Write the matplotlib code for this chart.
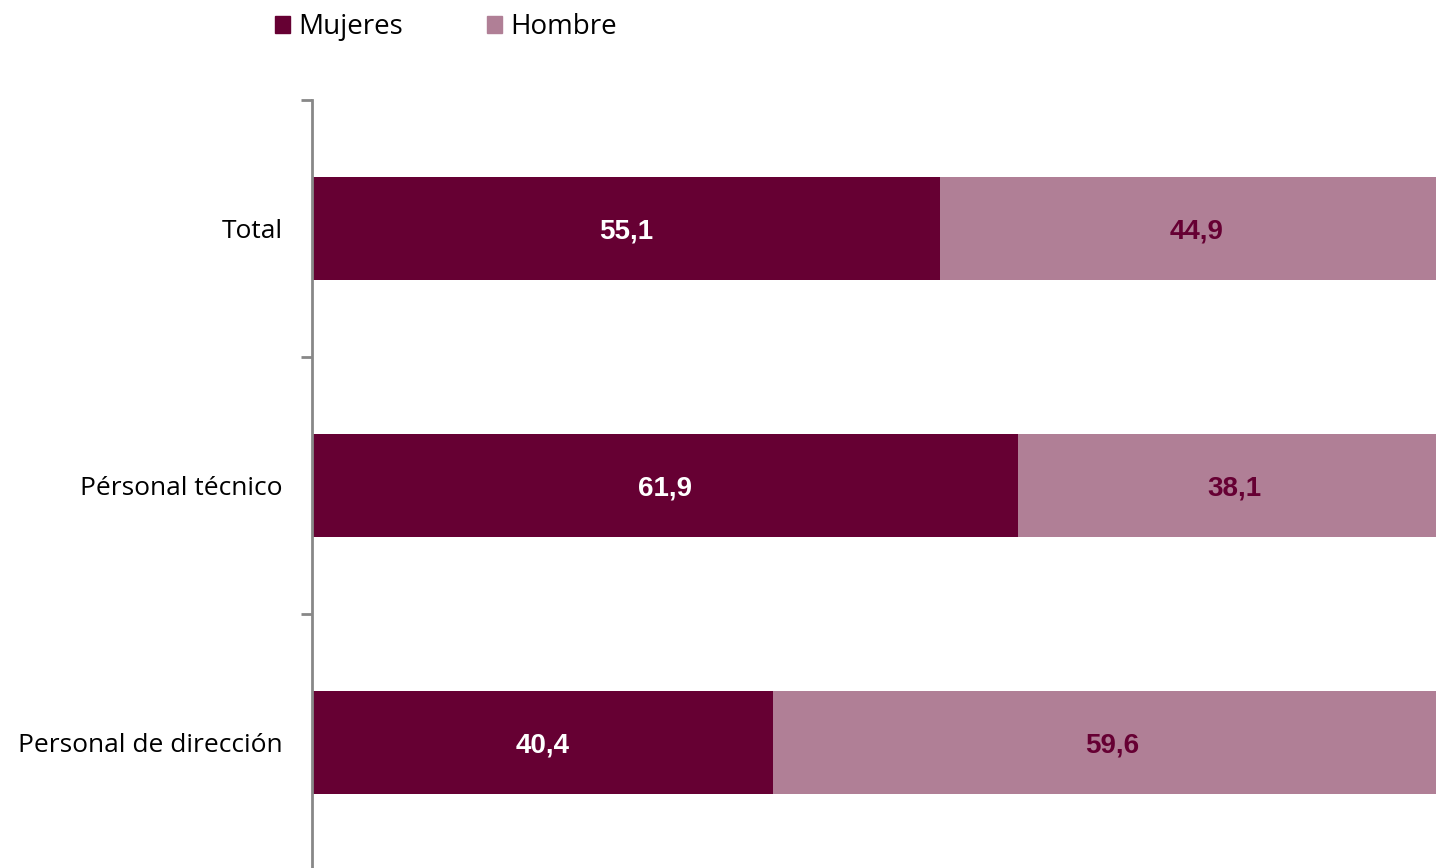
import matplotlib.pyplot as plt
from matplotlib.patches import Patch

# datos
categorias = ['Total', 'Pérsonal técnico', 'Personal de dirección']
mujeres = [55.1, 61.9, 40.4]
hombre = [44.9, 38.1, 59.6]

col_muj = '#660033'
col_hom = '#b07f96'

plt.rcParams['font.family'] = ['Open Sans', 'DejaVu Sans']

fig = plt.figure(figsize=(14.36, 8.68), dpi=100)
ax = fig.add_axes([312 / 1436, -3 / 868, 1140 / 1436, 771 / 868])

y = list(range(len(categorias)))
b1 = ax.barh(y, mujeres, height=0.4, color=col_muj)
b2 = ax.barh(y, hombre, left=mujeres, height=0.4, color=col_hom)

# etiquetas de valores
for i in y:
    ax.text(mujeres[i] / 2, i + 0.01, f"{mujeres[i]:.1f}".replace('.', ','),
            ha='center', va='center', color='white', fontsize=20,
            family='Liberation Sans', fontweight='bold')
    ax.text(mujeres[i] + hombre[i] / 2, i + 0.01, f"{hombre[i]:.1f}".replace('.', ','),
            ha='center', va='center', color=col_muj, fontsize=20,
            family='Liberation Sans', fontweight='bold')

ax.set_xlim(0, 100)
ax.set_ylim(2.5, -0.5)
ax.set_yticks(y)
ax.set_yticklabels(categorias, fontsize=19)
ax.set_yticks([-0.5, 0.5, 1.5, 2.5], minor=True)
ax.tick_params(axis='y', which='major', length=0, pad=21)
ax.tick_params(axis='y', which='minor', length=8, width=2, color='#888888')
ax.set_xticks([])

for s in ['top', 'right', 'bottom']:
    ax.spines[s].set_visible(False)
ax.spines['left'].set_color('#888888')
ax.spines['left'].set_linewidth(2)

handles = [Patch(color=col_muj, label='Mujeres'), Patch(color=col_hom, label='Hombre')]
fig.legend(handles=handles, loc='center left', bbox_to_anchor=(250 / 1436, 1 - 27 / 868),
           ncol=2, frameon=False, fontsize=20, handlelength=0.55, handleheight=0.55,
           handletextpad=0.3, columnspacing=3.0)

fig.savefig('out.png', dpi=100)
